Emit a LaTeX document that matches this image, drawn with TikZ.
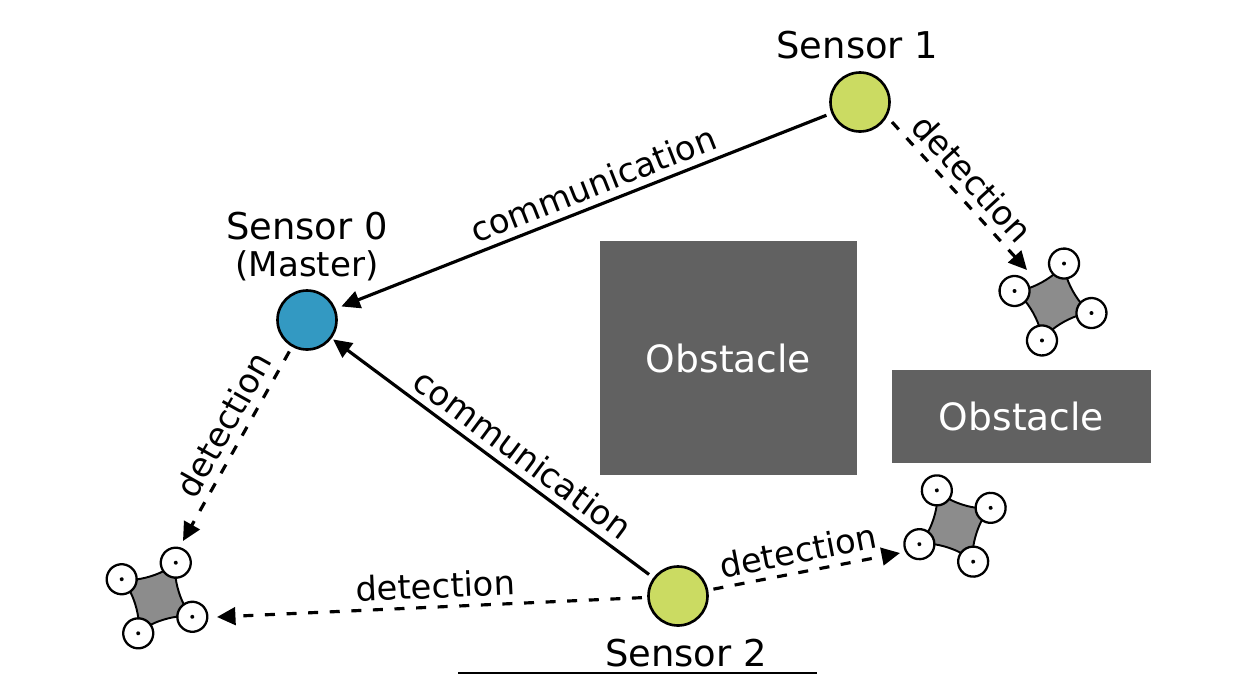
\documentclass[tikz,border=0pt]{standalone}
\usepackage{fontspec}
\setmainfont{DejaVu Sans}
\usetikzlibrary{positioning,arrows.meta}
\definecolor{masterblue}{HTML}{3399C2}
\definecolor{sensorgreen}{HTML}{CBDB62}
\definecolor{obstaclegray}{HTML}{616161}
\definecolor{bodygray}{HTML}{8C8C8C}

\begin{document}
\begin{tikzpicture}[x=0.02cm,y=-0.02cm]
  % Settings
  \tikzset{
    sensor/.style={draw, shape=circle, line width=1.5pt, minimum size=1.18cm, inner sep=0pt},
    obstacle/.style={fill=obstaclegray, text=white, align=center, inner sep=0pt, font=\fontsize{21.4}{24}\selectfont},
    sensorname/.style={inner sep=0pt, align=center, font=\fontsize{21}{24}\selectfont},
    lbl/.style={sloped, above, inner sep=4pt, font=\fontsize{19.2}{22}\selectfont},
    comm/.style={line width=1.8pt, -{Triangle[length=10.5pt,width=10pt]}},
    detect/.style={line width=1.8pt, dash pattern=on 5.7pt off 6.6pt, -{Triangle[length=10.5pt,width=10pt]}},
    pics/drone/.style={code={
      \fill[bodygray, draw=black, line width=1.1pt] (-5,-30) .. controls (-9,-22) and (-22,-9) .. (-30,-5)
        -- (-30,5) .. controls (-22,9) and (-9,22) .. (-5,30)
        -- (5,30) .. controls (9,22) and (22,9) .. (30,5)
        -- (30,-5) .. controls (22,-9) and (9,-22) .. (5,-30) -- cycle;
      \foreach \dx/\dy in {0/-40,-40/0,40/0,0/40} {
        \draw[fill=white, line width=1.3pt] (\dx,\dy) circle (15);
        \fill (\dx,\dy) circle (2);
      }
    }},
  }
  \useasboundingbox (0,0) rectangle (1245,674);
  % Obstacles
  \node[obstacle, minimum width=5.14cm, minimum height=4.68cm] (obstacleA) at (728.5,358) {Obstacle};
  \node[obstacle, minimum width=5.18cm, minimum height=1.86cm] (obstacleB) at (1021.5,416.5) {Obstacle};
  % Sensors
  \node[sensor, fill=masterblue] (s0) at (307,320) {};
  \node[sensor, fill=sensorgreen] (s1) at (860,102) {};
  \node[sensor, fill=sensorgreen] (s2) at (678,596) {};
  \node[sensorname, above=4.5pt of s0] (s0name) {Sensor 0\\[-3pt]{\fontsize{19.4}{22}\selectfont (Master)}};
  \node[sensorname, above=7pt of s1, xshift=-1.5pt] (s1name) {Sensor 1};
  \node[sensorname, below=7pt of s2, xshift=4.5pt] (s2name) {Sensor 2};
  % Drones
  \pic[rotate=-16] at (1053,302) {drone};
  \pic[rotate=-28] at (157,598) {drone};
  \pic[rotate=27] at (955,526) {drone};
  \coordinate (t1) at (1027,270);
  \coordinate (t2) at (183,541);
  \coordinate (t3) at (217,617);
  \coordinate (t4) at (900,553);
  \coordinate (s1out) at (892,122);
  % Arrows
  \draw[comm, shorten >=3.5pt, shorten <=3pt] (s1) -- node[lbl, pos=.465] (lblA) {communication} (s0);
  \draw[comm, shorten >=1pt, shorten <=3pt] (s2) -- node[lbl, pos=.445] (lblB) {communication} (s0);
  \draw[detect] (s1out) -- node[lbl, pos=.48] (lblC) {detection} (t1);
  \draw[detect, shorten <=3pt] (s0) -- node[lbl, pos=.455] (lblD) {detection} (t2);
  \draw[detect, shorten <=3pt] (s2) -- node[lbl, pos=.49] (lblE) {detection} (t3);
  \draw[detect, shorten <=3pt] (s2) -- node[lbl, pos=.49] (lblF) {detection} (t4);
  % Edge of the next figure
  \coordinate (edgeL) at (458,673);
  \coordinate (edgeR) at (817,673);
  \draw[line width=1pt] (edgeL) -- (edgeR);
\end{tikzpicture}
\end{document}
